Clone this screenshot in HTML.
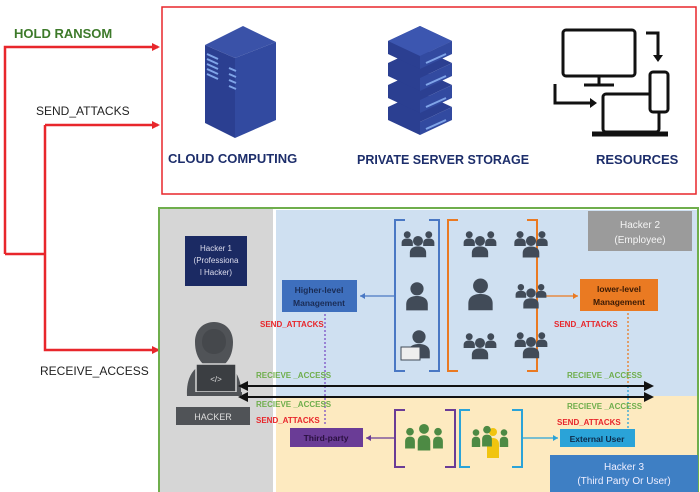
<!DOCTYPE html>
<html><head><meta charset="utf-8"><style>
body{margin:0;background:#fff;width:700px;height:492px;overflow:hidden;font-family:"Liberation Sans",sans-serif}
svg{display:block}
text{font-family:"Liberation Sans",sans-serif}
</style></head><body>
<svg width="700" height="492" viewBox="0 0 700 492" xmlns="http://www.w3.org/2000/svg">
<defs>
<marker id="ar" markerWidth="8" markerHeight="8" refX="6" refY="4" orient="auto" markerUnits="userSpaceOnUse"><path d="M0,0L8,4L0,8z" fill="#e8262b"/></marker>
<marker id="ab" markerWidth="10" markerHeight="10" refX="8" refY="5" orient="auto-start-reverse" markerUnits="userSpaceOnUse"><path d="M0,0L10,5L0,10z" fill="#111"/></marker>
<symbol id="p" viewBox="0 0 20 24"><circle cx="10" cy="6" r="5.5" fill="#414b58"/><path d="M1,24v-5c0-5 4-7 9-7s9 2 9 7v5z" fill="#414b58"/></symbol>
<symbol id="g3" viewBox="0 0 30 26"><use href="#p" x="0" y="2" width="11" height="14"/><use href="#p" x="19" y="2" width="11" height="14"/><use href="#p" x="7" y="6" width="16" height="20"/></symbol>
<symbol id="gp" viewBox="0 0 20 30"><circle cx="10" cy="6" r="5.5" fill="#4d8a44"/><path d="M3,30v-10c0-5 3-7 7-7s7 2 7 7v10z" fill="#4d8a44"/></symbol>
</defs>

<rect x="162" y="7" width="534" height="187" fill="#fff" stroke="#e8262b" stroke-width="1.5"/>
<polyline points="5,254 5,47 158,47" fill="none" stroke="#e8262b" stroke-width="2.5" marker-end="url(#ar)"/>
<polyline points="5,254 45,254" fill="none" stroke="#e8262b" stroke-width="2.5"/>
<polyline points="45,125 45,350 158,350" fill="none" stroke="#e8262b" stroke-width="2.5" marker-end="url(#ar)"/>
<line x1="45" y1="125" x2="158" y2="125" stroke="#e8262b" stroke-width="2.5" marker-end="url(#ar)"/>
<text x="14" y="38" font-size="13" font-weight="bold" fill="#3d7a2a">HOLD RANSOM</text>
<text x="36" y="115" font-size="12" fill="#222">SEND_ATTACKS</text>
<text x="40" y="375" font-size="12" fill="#222">RECEIVE_ACCESS</text>

<polygon points="205,45 243,26 276,42 235,58" fill="#3a52a8"/>
<polygon points="205,45 235,58 235,138 205,123" fill="#2b3f91"/>
<polygon points="235,58 276,42 276,120 235,138" fill="#324aa0"/>
<g stroke="#7fa4e8" stroke-width="2"><line x1="207" y1="54" x2="218" y2="59"/><line x1="207" y1="59" x2="218" y2="64"/><line x1="207" y1="64" x2="218" y2="69"/><line x1="207" y1="69" x2="218" y2="74"/><line x1="207" y1="74" x2="218" y2="79"/><line x1="229" y1="68" x2="236" y2="71"/><line x1="229" y1="74" x2="236" y2="77"/><line x1="229" y1="80" x2="236" y2="83"/><line x1="229" y1="86" x2="236" y2="89"/></g>
<text x="168" y="163" font-size="13" font-weight="bold" fill="#1d2e6b">CLOUD COMPUTING</text>
<g>
<polygon points="388,107 420,92 452,107 420,122 420,135 388,120" fill="#2b3f91"/><polygon points="420,122 452,107 452,120 420,135" fill="#324aa0"/>
<polygon points="388,85 420,70 452,85 420,100 420,113 388,98" fill="#2b3f91"/><polygon points="420,100 452,85 452,98 420,113" fill="#324aa0"/>
<polygon points="388,63 420,48 452,63 420,78 420,91 388,76" fill="#2b3f91"/><polygon points="420,78 452,63 452,76 420,91" fill="#324aa0"/>
<polygon points="388,41 420,26 452,41 420,56 420,69 388,54" fill="#2b3f91"/><polygon points="420,56 452,41 452,54 420,69" fill="#324aa0"/>
<polygon points="388,41 420,26 452,41 420,56" fill="#3c56b0"/>
<g stroke="#7fa4e8" stroke-width="2"><line x1="426" y1="63" x2="446" y2="54"/><line x1="426" y1="85" x2="446" y2="76"/><line x1="426" y1="107" x2="446" y2="98"/><line x1="426" y1="129" x2="446" y2="120"/></g>
</g>
<text x="357" y="164" font-size="12.5" font-weight="bold" fill="#1d2e6b">PRIVATE SERVER STORAGE</text>
<g fill="none" stroke="#111" stroke-width="3">
<rect x="563" y="30" width="72" height="46" rx="3"/><line x1="599" y1="76" x2="599" y2="84"/><line x1="584" y1="85" x2="614" y2="85"/>
<rect x="603" y="94" width="56" height="38" rx="3"/><line x1="592" y1="134" x2="668" y2="134" stroke-width="5"/>
<rect x="650" y="72" width="18" height="40" rx="3" fill="#fff"/>
<polyline points="646,33 658,33 658,57"/><polyline points="555,84 555,103 590,103"/>
</g>
<path d="M653,55l5,7l5,-7z" fill="#111"/><path d="M590,98l7,5l-7,5z" fill="#111"/>
<text x="596" y="164" font-size="13" font-weight="bold" fill="#1d2e6b">RESOURCES</text>

<rect x="159" y="208" width="539" height="290" fill="#fff" stroke="#6fae4c" stroke-width="2"/>
<rect x="160" y="209" width="113" height="283" fill="#d6d6d6"/>
<rect x="276" y="210" width="421" height="186" fill="#cfe0f1"/>
<rect x="276" y="396" width="421" height="96" fill="#fdeac0"/>

<rect x="185" y="236" width="62" height="50" fill="#1b2a63"/>
<text font-size="8" fill="#dde" text-anchor="middle"><tspan x="216" y="251">Hacker 1</tspan><tspan x="216" y="263">(Professiona</tspan><tspan x="216" y="275">l Hacker)</tspan></text>

<!-- hacker -->
<path d="M187,396c-1-18 6-28 16-32c-6-6-8-14-8-22c0-12 8-20 19-20s19 8 19 20c0 8-2 16-8 22c10 4 17 14 16 32z" fill="#505357"/>
<path d="M202,342c0-8 5-13 12-13s12 5 12 13c0 7-5 12-12 12s-12-5-12-12z" fill="#45484c"/>
<rect x="196" y="364" width="40" height="28" fill="#3b3e42" stroke="#d6d6d6" stroke-width="1.5"/>
<rect x="190" y="392" width="52" height="3" fill="#505357"/>
<text x="216" y="382" font-size="8" fill="#ddd" text-anchor="middle">&lt;/&gt;</text>
<rect x="176" y="407" width="74" height="18" fill="#505357"/>
<text x="213" y="420" font-size="9" fill="#ddd" text-anchor="middle">HACKER</text>

<rect x="588" y="211" width="104" height="40" fill="#9b9b9b"/>
<text font-size="10" fill="#f4f4f4" text-anchor="middle"><tspan x="640" y="228">Hacker 2</tspan><tspan x="640" y="243">(Employee)</tspan></text>

<rect x="282" y="280" width="75" height="32" fill="#3e6fbd"/>
<text font-size="8.5" font-weight="bold" fill="#1a2c55" text-anchor="middle"><tspan x="319" y="293">Higher-level</tspan><tspan x="319" y="306">Management</tspan></text>
<rect x="580" y="279" width="78" height="32" fill="#ea7a22"/>
<text font-size="8.5" font-weight="bold" fill="#3a1a05" text-anchor="middle"><tspan x="619" y="292">lower-level</tspan><tspan x="619" y="305">Management</tspan></text>

<g fill="none" stroke-width="2">
<path d="M405,220h-10v151h10M429,220h10v151h-10" stroke="#4a78c4"/>
<path d="M458,220h-10v151h10M527,220h10v151h-10" stroke="#ea7a22"/>
<line x1="360" y1="296" x2="395" y2="296" stroke="#4a78c4" stroke-width="1.2"/>
<line x1="537" y1="296" x2="578" y2="296" stroke="#ea7a22" stroke-width="1.2"/>
<path d="M405,410h-10v57h10M445,410h10v57h-10" stroke="#6a3c96"/>
<path d="M470,410h-10v57h10M512,410h10v57h-10" stroke="#2aa3d8"/>
<line x1="366" y1="438" x2="395" y2="438" stroke="#6a3c96" stroke-width="1.2"/>
<line x1="522" y1="438" x2="558" y2="438" stroke="#2aa3d8" stroke-width="1.2"/>
</g>
<path d="M360,296l5,-3v6z" fill="#4a78c4"/><path d="M578,296l-5,-3v6z" fill="#ea7a22"/>
<path d="M366,438l5,-3v6z" fill="#6a3c96"/><path d="M558,438l-5,-3v6z" fill="#2aa3d8"/>

<use href="#g3" x="401" y="228" width="34" height="30"/>
<use href="#p" x="405" y="280" width="24" height="32"/>
<use href="#p" x="407" y="328" width="24" height="32"/>
<rect x="401" y="347" width="19" height="13" fill="#eee" stroke="#414b58"/>
<use href="#g3" x="463" y="228" width="34" height="30"/>
<use href="#g3" x="513" y="228" width="36" height="30"/>
<use href="#p" x="467" y="277" width="27" height="34"/>
<use href="#g3" x="515" y="280" width="32" height="30"/>
<use href="#g3" x="463" y="330" width="34" height="30"/>
<use href="#g3" x="514" y="328" width="34" height="32"/>
<use href="#gp" x="403" y="418" width="14" height="40"/><use href="#gp" x="431" y="418" width="14" height="40"/><use href="#gp" x="415" y="412" width="18" height="50"/>
<use href="#gp" x="470" y="420" width="12" height="36"/><use href="#gp" x="498" y="420" width="12" height="36"/>
<circle cx="493" cy="432" r="4" fill="#f1c40f"/><path d="M487,458v-14c0-4 3-6 6-6s6 2 6 6v14z" fill="#f1c40f"/>
<use href="#gp" x="480" y="414" width="14" height="44"/>

<rect x="290" y="428" width="73" height="19" fill="#6a3c96"/>
<text x="326" y="441" font-size="8.5" font-weight="bold" fill="#2a1040" text-anchor="middle">Third-party</text>
<rect x="560" y="429" width="75" height="18" fill="#2aa3d8"/>
<text x="597" y="442" font-size="8.5" font-weight="bold" fill="#0d2b4a" text-anchor="middle">External User</text>
<rect x="550" y="455" width="148" height="37" fill="#3e7fc4"/>
<text font-size="10" fill="#eef" text-anchor="middle"><tspan x="624" y="470">Hacker 3</tspan><tspan x="624" y="484">(Third Party Or User)</tspan></text>

<line x1="325" y1="314" x2="325" y2="426" stroke="#7a4fc4" stroke-width="1.3" stroke-dasharray="2,2"/>
<line x1="628" y1="313" x2="628" y2="386" stroke="#ea7a22" stroke-width="1.3" stroke-dasharray="2,2"/>
<line x1="628" y1="386" x2="628" y2="428" stroke="#2aa3d8" stroke-width="1.3" stroke-dasharray="2,2"/>

<line x1="240" y1="386" x2="652" y2="386" stroke="#111" stroke-width="2" marker-start="url(#ab)" marker-end="url(#ab)"/>
<line x1="240" y1="397" x2="652" y2="397" stroke="#111" stroke-width="2" marker-start="url(#ab)" marker-end="url(#ab)"/>

<g font-size="8" font-weight="bold">
<text x="256" y="378" fill="#6fae4c">RECIEVE _ACCESS</text>
<text x="256" y="407" fill="#6fae4c">RECIEVE _ACCESS</text>
<text x="567" y="378" fill="#6fae4c">RECIEVE _ACCESS</text>
<text x="567" y="409" fill="#6fae4c">RECIEVE _ACCESS</text>
<text x="260" y="327" fill="#e8262b">SEND_ATTACKS</text>
<text x="256" y="423" fill="#e8262b">SEND_ATTACKS</text>
<text x="554" y="327" fill="#e8262b">SEND_ATTACKS</text>
<text x="557" y="425" fill="#e8262b">SEND_ATTACKS</text>
</g>
</svg>
</body></html>
